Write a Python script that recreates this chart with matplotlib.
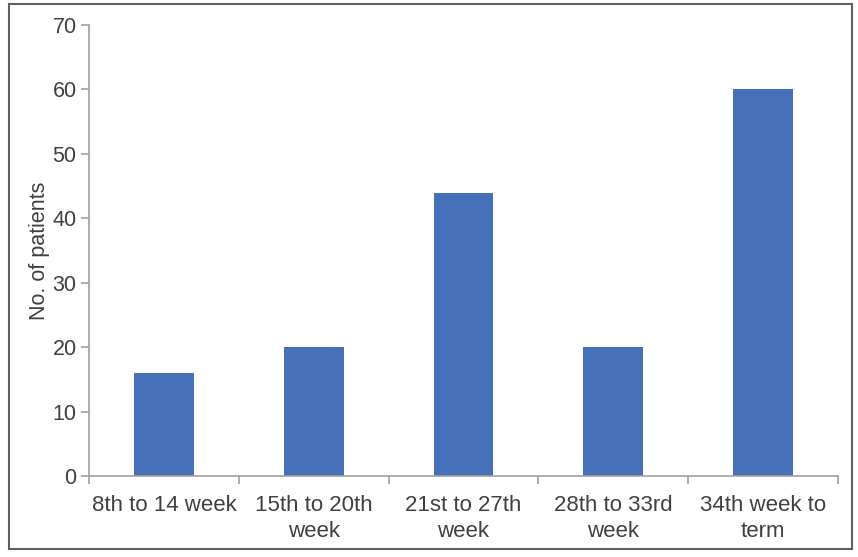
import matplotlib
matplotlib.use("Agg")
import matplotlib.pyplot as plt
from matplotlib.patches import Rectangle
from matplotlib.ticker import FixedLocator, NullFormatter

categories = ["8th to 14 week", "15th to 20th\nweek", "21st to 27th\nweek", "28th to 33rd\nweek", "34th week to\nterm"]
values = [16, 20, 44, 20, 60]
yticks = [0, 10, 20, 30, 40, 50, 60, 70]

plt.rcParams['font.family'] = ['Liberation Sans', 'DejaVu Sans']
W, H = 858, 557
fig = plt.figure(figsize=(W / 100, H / 100), dpi=100)
ax = fig.add_axes([89 / W, 1 - 476 / H, (838 - 89) / W, (476 - 25) / H])

x = list(range(len(categories)))
ax.bar(x, values, width=0.4, color="#4670BA", zorder=2)
ax.set_xlim(-0.5, len(categories) - 0.5)
ax.set_ylim(0, 70)
ax.set_yticks(yticks)
ax.set_xticks(x)
ax.set_xticklabels(categories, fontsize=16, color="#404040", linespacing=1.3)
ax.tick_params(axis="x", length=0, pad=14)
ax.xaxis.set_minor_locator(FixedLocator([i - 0.5 for i in range(len(categories) + 1)]))
ax.xaxis.set_minor_formatter(NullFormatter())
ax.tick_params(axis="x", which="minor", length=6, color="#a0a0a0", width=1.2)
ax.tick_params(axis="y", length=6, color="#a0a0a0", width=1.2, labelsize=15.5, labelcolor="#404040", pad=3)
ax.set_ylabel("No. of patients", fontsize=15.5, color="#404040", labelpad=2)

for s in ["top", "right"]:
    ax.spines[s].set_visible(False)
for s in ["left", "bottom"]:
    ax.spines[s].set_color("#a0a0a0")
    ax.spines[s].set_linewidth(1.2)

fig.patches.append(Rectangle((9 / W, 1 - 549 / H), (852 - 9) / W, (549 - 4) / H,
                             transform=fig.transFigure, fill=False, edgecolor="#606060", linewidth=1.5))

fig.savefig("out.png", dpi=100)
